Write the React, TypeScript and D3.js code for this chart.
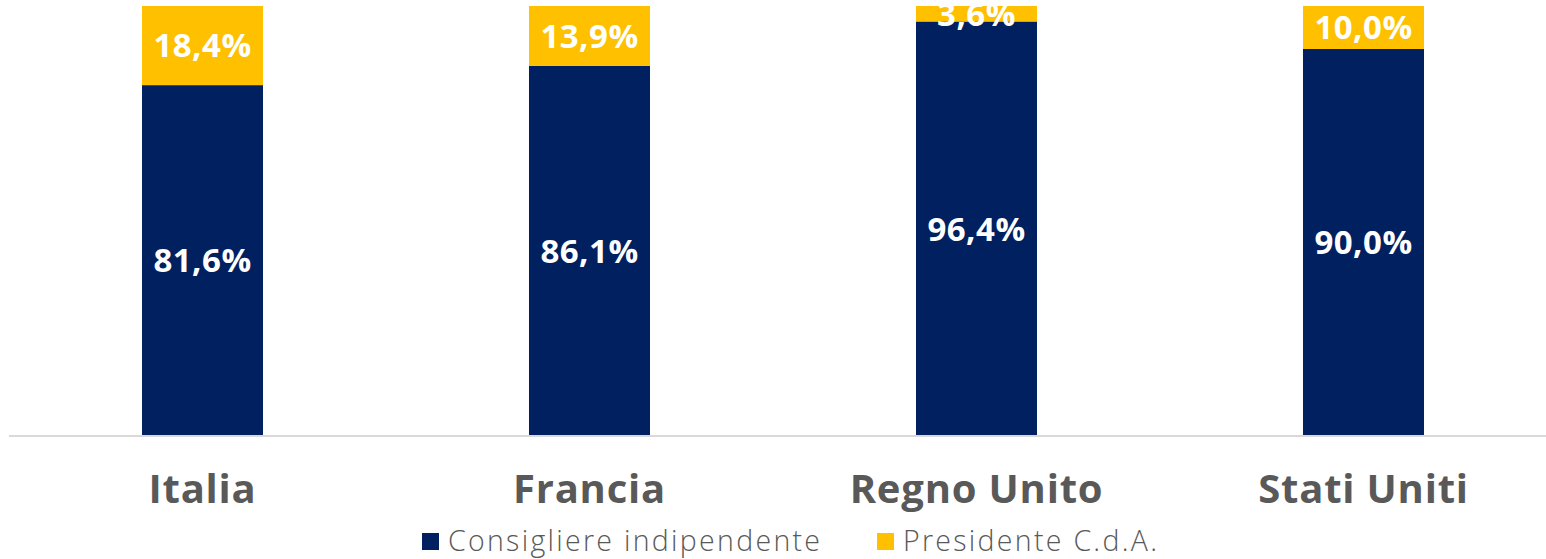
import React from "react";
import * as d3 from "d3";

const categories = ["Italia", "Francia", "Regno Unito", "Stati Uniti"];
const consigliere = [81.6, 86.1, 96.4, 90.0];
const presidente = [18.4, 13.9, 3.6, 10.0];
const seriesNames = ["Consigliere indipendente", "Presidente C.d.A."];
const colors = ["#002060", "#FFC000"];

const W = 1546;
const H = 559;

const fmt = (v: number) => v.toFixed(1).replace(".", ",") + "%";

export default function App() {
  const x = d3
    .scaleBand<string>()
    .domain(categories)
    .range([9, 1557])
    .paddingInner(0.6873)
    .paddingOuter(0.34365);
  const y = d3.scaleLinear().domain([0, 100]).range([436, 6]);

  const rows = categories.map((c, i) => ({ c, a: consigliere[i], b: presidente[i] }));
  const stack = d3.stack<any>().keys(["a", "b"])(rows as any);

  const font = "'Open Sans', sans-serif";

  return (
    <svg
      width={W}
      height={H}
      style={{ position: "absolute", left: 0, top: 0, display: "block", background: "#fff" }}
    >
      {stack.map((layer, si) => (
        <g key={si}>
          {layer.map((d: any, i: number) => {
            const x0 = x(categories[i])!;
            const y0 = y(d[1]);
            const y1 = y(d[0]);
            const v = d[1] - d[0];
            return (
              <g key={i}>
                <rect x={x0} y={y0} width={x.bandwidth()} height={y1 - y0} fill={colors[si]} />
                <text
                  x={x0 + x.bandwidth() / 2}
                  y={(y0 + y1) / 2}
                  dy="0.36em"
                  textAnchor="middle"
                  fill="#fff"
                  fontFamily={font}
                  fontWeight={700}
                  fontSize={33}
                  letterSpacing={0.5}
                >
                  {fmt(v)}
                </text>
              </g>
            );
          })}
        </g>
      ))}
      <line x1={9} x2={1546} y1={436} y2={436} stroke="#D9D9D9" strokeWidth={2} />
      {categories.map((c) => (
        <text
          key={c}
          x={x(c)! + x.bandwidth() / 2}
          y={503}
          textAnchor="middle"
          fill="#595959"
          fontFamily={font}
          fontWeight={700}
          fontSize={40}
          letterSpacing={0.8}
        >
          {c}
        </text>
      ))}
      <g>
        <rect x={422} y={533} width={17} height={17} fill={colors[0]} />
        <text
          x={448}
          y={551}
          fill="#595959"
          fontFamily={font}
          fontWeight={300}
          fontSize={28.5}
          textLength={372}
          lengthAdjust="spacing"
        >
          {seriesNames[0]}
        </text>
        <rect x={877} y={533} width={17} height={17} fill={colors[1]} />
        <text
          x={903}
          y={551}
          fill="#595959"
          fontFamily={font}
          fontWeight={300}
          fontSize={28.5}
          textLength={254}
          lengthAdjust="spacing"
        >
          {seriesNames[1]}
        </text>
      </g>
    </svg>
  );
}
